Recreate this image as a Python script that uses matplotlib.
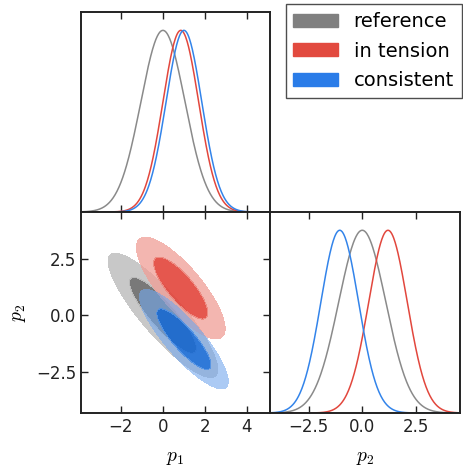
import numpy as np
import matplotlib
matplotlib.use("Agg")
import matplotlib.pyplot as plt
from matplotlib.patches import Patch

plt.rcParams['mathtext.fontset'] = 'cm'
plt.rcParams['font.family'] = 'DejaVu Sans'

# Gaussian parameters
names = ["reference", "in tension", "consistent"]
mean_p1 = [0.0, 0.85, 1.0]
mean_p2 = [0.0, 1.2, -1.05]
sig_p1 = [1.05, 0.85, 0.85]
sig_p2 = [1.1, 0.9, 0.88]
corr = [-0.87, -0.8, -0.85]

line_cols = ["#8a8a8a", "#e2473d", "#3384ea"]
outer_cols = [(0.76, 0.76, 0.76, 0.9), (0.94, 0.62, 0.59, 0.75), (0.45, 0.66, 0.93, 0.6)]
inner_cols = [(0.42, 0.42, 0.42, 0.9), (0.89, 0.27, 0.23, 0.9), (0.08, 0.42, 0.86, 0.85)]
legend_cols = ["#808080", "#e24a3f", "#2a7ce8"]

p1_lim = (-3.9, 5.1)
p2_lim = (-4.3, 4.55)
p1_ticks = [-2, 0, 2, 4]
p2_ticks = [-2.5, 0.0, 2.5]
chi2_levels = [2.30, 6.17]

fig = plt.figure(figsize=(4.64, 4.69), dpi=100)
L, M, R = 0.1746, 0.582, 0.991
B, C, T = 0.1194, 0.548, 0.974
ax_top = fig.add_axes([L, C, M - L, T - C])
ax_2d = fig.add_axes([L, B, M - L, C - B])
ax_right = fig.add_axes([M, B, R - M, C - B])

for ax in (ax_top, ax_2d, ax_right):
    for s in ax.spines.values():
        s.set_linewidth(1.4)
        s.set_color("#222222")
    ax.tick_params(direction="in", length=5, width=1, labelsize=12, colors="#222222")

x1 = np.linspace(p1_lim[0], p1_lim[1], 400)
x2 = np.linspace(p2_lim[0], p2_lim[1], 400)
X, Y = np.meshgrid(x1, x2)

for i in range(3):
    # marginals
    ax_top.plot(x1, np.exp(-0.5 * ((x1 - mean_p1[i]) / sig_p1[i]) ** 2), color=line_cols[i], lw=1.1)
    ax_right.plot(x2, np.exp(-0.5 * ((x2 - mean_p2[i]) / sig_p2[i]) ** 2), color=line_cols[i], lw=1.1)
    # 2d contours
    dx = (X - mean_p1[i]) / sig_p1[i]
    dy = (Y - mean_p2[i]) / sig_p2[i]
    r = corr[i]
    chi2 = (dx ** 2 - 2 * r * dx * dy + dy ** 2) / (1 - r ** 2)
    ax_2d.contourf(X, Y, chi2, levels=[0, chi2_levels[0]], colors=[inner_cols[i]])
    ax_2d.contourf(X, Y, chi2, levels=[chi2_levels[0], chi2_levels[1]], colors=[outer_cols[i]])

ax_top.set_xlim(p1_lim)
ax_top.set_ylim(0, 1.1)
ax_top.set_xticks(p1_ticks)
ax_top.set_yticks([])
ax_top.tick_params(top=True, bottom=True, labelbottom=False)

ax_2d.set_xlim(p1_lim)
ax_2d.set_ylim(p2_lim)
ax_2d.set_xticks(p1_ticks)
ax_2d.set_yticks(p2_ticks)
ax_2d.tick_params(top=True, right=True)
ax_2d.set_xlabel(r"$p_1$", fontsize=14, labelpad=9)
ax_2d.set_ylabel(r"$p_2$", fontsize=14, labelpad=6)

ax_right.set_xlim(p2_lim)
ax_right.set_ylim(0, 1.1)
ax_right.set_xticks(p2_ticks)
ax_right.set_yticks([])
ax_right.tick_params(top=True, bottom=True)
ax_right.set_xlabel(r"$p_2$", fontsize=14, labelpad=9)

handles = [Patch(facecolor=c, edgecolor=c) for c in legend_cols]
fig.legend(handles, names, loc="upper right", bbox_to_anchor=(0.999, 0.995),
           fontsize=14, frameon=True, fancybox=False, edgecolor="#222222",
           handlelength=2.3, handleheight=0.65, labelspacing=0.55, borderpad=0.4,
           handletextpad=0.8, borderaxespad=0.1)

fig.savefig("out.png", dpi=100)
